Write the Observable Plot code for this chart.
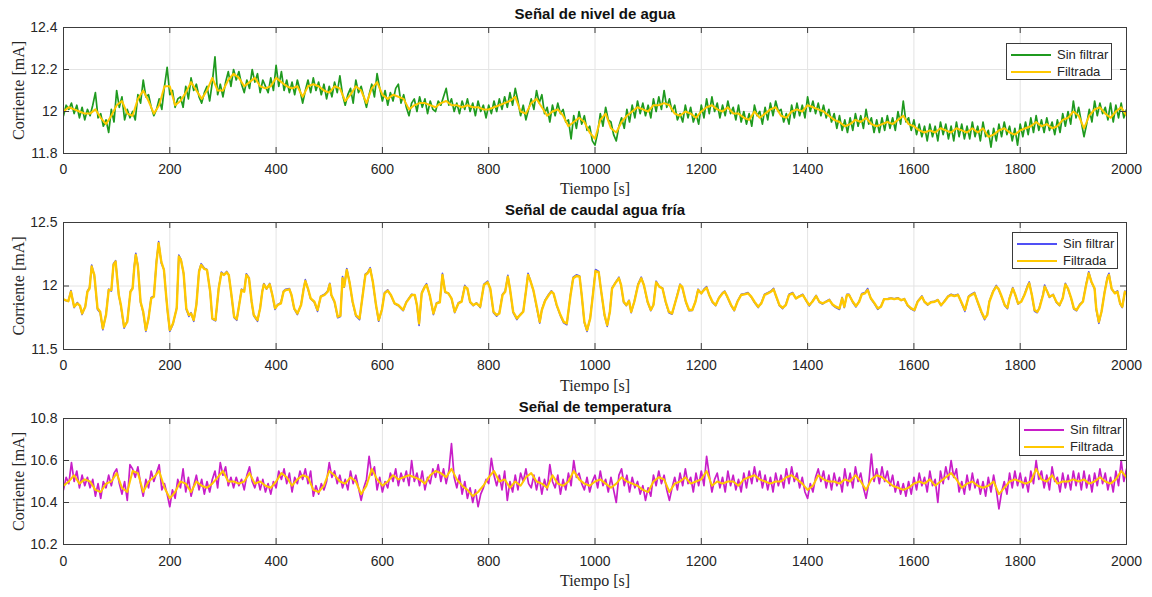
<!DOCTYPE html>
<html>
<head>
<meta charset="utf-8">
<script src="https://cdn.jsdelivr.net/npm/d3@7"></script>
<script src="https://cdn.jsdelivr.net/npm/@observablehq/plot@0.6"></script>
<style>
  body { margin: 0; background: #fff; }
  .panel { position: relative; width: 1152px; height: 197px; }
  .legend { position: absolute; background: #fff; border: 1px solid #3a3a3a; box-sizing: border-box;
    font-family: "Liberation Sans", Arial, sans-serif; font-size: 13px; color: #262626; padding: 2px 0 0 4px; }
  .legend .row { display: flex; align-items: center; height: 17px; }
  .legend .sw { display: inline-block; width: 40px; height: 2px; margin-right: 6px; }
</style>
</head>
<body>
<div id="chart"></div>
<script>
// ---------------- DATA ----------------
const xTicks = [0, 200, 400, 600, 800, 1000, 1200, 1400, 1600, 1800, 2000];
const yTicksNivel = [11.8, 12, 12.2, 12.4];
const yTicksCaudal = [11.5, 12, 12.5];
const yTicksTemp = [10.2, 10.4, 10.6, 10.8];
const seriesNames = ["Sin filtrar", "Filtrada"];
const titles = ["Señal de nivel de agua", "Señal de caudal agua fría", "Señal de temperatura"];

// Nivel de agua: filtrada (cada 10 s)
const nivelFilt = [
12.00,12.02,12.01,12.00,11.99,11.99,12.01,11.97,11.94,11.98,
12.03,12.05,11.99,11.98,12.06,12.10,12.05,11.99,12.03,12.12,
12.12,12.03,12.05,12.09,12.14,12.10,12.06,12.10,12.16,12.10,
12.10,12.15,12.18,12.16,12.12,12.14,12.16,12.12,12.11,12.12,
12.16,12.14,12.12,12.11,12.12,12.07,12.12,12.13,12.12,12.10,
12.09,12.12,12.11,12.05,12.08,12.12,12.10,12.04,12.11,12.14,
12.08,12.06,12.08,12.07,12.06,12.01,12.03,12.04,12.04,12.03,
12.02,12.04,12.05,12.03,12.03,12.02,12.03,12.02,12.02,12.01,
12.01,12.02,12.03,12.04,12.05,12.07,12.00,11.99,12.04,12.06,
12.02,11.98,12.00,12.01,11.98,11.93,11.95,11.97,11.95,11.90,
11.87,11.96,11.99,11.92,11.90,11.95,11.98,12.00,12.02,12.01,
12.00,12.03,12.03,12.04,12.03,11.99,11.98,12.00,11.99,11.97,
12.00,12.02,12.03,12.01,12.00,12.02,11.99,11.99,11.97,11.96,
12.00,11.97,11.99,12.01,12.02,11.98,11.97,12.00,12.01,12.00,
12.03,12.02,12.01,12.00,11.98,11.96,11.95,11.93,11.94,11.96,
11.95,11.97,11.94,11.93,11.94,11.95,11.94,11.96,11.98,11.94,
11.93,11.91,11.90,11.91,11.90,11.92,11.91,11.90,11.92,11.91,
11.90,11.92,11.90,11.92,11.88,11.89,11.91,11.92,11.90,11.89,
11.91,11.92,11.93,11.95,11.93,11.94,11.92,11.93,11.96,11.97,
12.00,11.98,11.92,11.98,12.01,12.02,11.99,11.97,12.00,12.02,
11.98];

// Nivel de agua: sin filtrar (cada 5 s)
const nivelRaw = [
11.98,12.03,12.01,12.04,11.99,12.03,11.97,12.02,11.96,12.01,11.98,12.03,12.09,11.97,11.99,11.93,11.96,11.90,12.01,11.95,
12.10,12.02,12.07,11.96,12.01,11.97,12.00,11.96,12.08,12.04,12.15,12.07,12.08,12.02,11.98,12.01,12.06,12.01,12.12,12.21,
12.08,12.10,12.02,12.06,12.07,12.02,12.12,12.06,12.16,12.10,12.13,12.07,12.04,12.09,12.12,12.05,12.14,12.26,12.08,12.13,
12.07,12.14,12.19,12.12,12.20,12.15,12.19,12.13,12.09,12.15,12.11,12.20,12.14,12.18,12.09,12.15,12.12,12.09,12.16,12.10,
12.22,12.12,12.19,12.10,12.15,12.09,12.14,12.08,12.15,12.10,12.04,12.10,12.15,12.09,12.16,12.10,12.14,12.08,12.13,12.06,
12.12,12.07,12.14,12.09,12.17,12.08,12.03,12.08,12.11,12.04,12.15,12.09,12.12,12.07,12.02,12.08,12.13,12.07,12.18,12.11,
12.05,12.10,12.03,12.09,12.05,12.11,12.13,12.04,12.08,12.02,11.98,12.04,12.06,12.00,12.07,12.02,12.06,11.99,12.05,12.01,
12.00,12.05,12.03,12.07,12.11,12.03,12.06,12.00,12.04,11.99,12.05,12.01,12.06,12.00,12.04,11.98,12.05,12.00,12.03,11.97,
12.03,11.99,12.05,12.00,12.06,12.01,12.07,12.02,12.09,12.03,12.11,12.05,11.98,12.03,11.96,12.01,12.06,12.01,12.10,12.04,
12.08,11.99,12.02,11.95,12.03,11.98,12.04,11.99,12.01,11.95,11.96,11.87,11.98,11.92,12.00,11.94,11.98,11.91,11.93,11.86,
11.84,11.90,11.99,11.93,12.02,11.96,11.95,11.89,11.86,11.93,11.97,11.92,12.01,11.95,12.03,11.97,12.05,11.99,12.04,11.98,
12.03,11.97,12.06,12.00,12.07,12.01,12.10,12.02,12.06,12.00,12.03,11.96,11.99,11.95,12.03,11.97,12.02,11.95,11.99,11.94,
12.03,11.97,12.06,11.99,12.07,12.00,12.04,11.97,12.03,11.98,12.05,11.99,12.02,11.96,12.03,11.95,12.00,11.94,11.99,11.93,
12.03,11.98,12.00,11.94,12.02,11.96,12.04,11.98,12.05,12.00,12.01,11.95,11.99,11.94,12.03,11.97,12.04,11.98,12.03,11.97,
12.07,12.00,12.05,11.99,12.04,11.98,12.03,11.97,12.01,11.95,11.99,11.92,11.98,11.91,11.96,11.90,11.97,11.91,11.99,11.93,
11.98,11.92,12.01,11.94,11.97,11.90,11.96,11.90,11.97,11.91,11.98,11.92,11.97,11.91,12.00,11.94,12.05,11.95,11.97,11.91,
11.96,11.89,11.94,11.88,11.93,11.86,11.94,11.88,11.93,11.86,11.95,11.89,11.94,11.87,11.93,11.86,11.95,11.88,11.94,11.87,
11.93,11.87,11.95,11.88,11.93,11.86,11.95,11.88,11.91,11.83,11.92,11.86,11.94,11.88,11.95,11.89,11.93,11.86,11.92,11.84,
11.94,11.88,11.95,11.89,11.97,11.90,11.98,11.91,11.96,11.90,11.97,11.91,11.95,11.89,11.96,11.90,11.99,11.93,12.00,11.94,
12.05,11.97,12.02,11.95,11.88,11.94,12.01,11.95,12.05,11.98,12.04,11.99,12.02,11.96,12.04,11.95,12.03,11.97,12.04,11.97,
12.01];

// Caudal agua fría: instantes [s]
const caudalT = [
0,9,14,20,26,31,35,41,45,49,
53,58,64,69,74,80,85,90,94,98,
104,108,114,120,126,130,133,136,140,145,
150,155,160,165,170,175,179,184,189,193,
196,200,206,213,217,221,226,231,236,240,
245,250,255,259,265,270,276,280,286,292,
297,302,307,311,316,321,326,330,335,340,
344,349,354,358,365,370,374,377,382,388,
393,398,403,409,414,418,425,429,434,440,
447,452,455,460,465,472,478,484,491,497,
501,504,510,516,521,525,528,533,538,544,
550,557,563,568,572,577,582,588,593,599,
604,610,616,623,630,639,645,655,661,665,
669,674,680,683,689,696,702,708,713,718,
724,730,736,743,749,755,760,765,771,777,
784,791,798,803,809,815,820,826,831,836,
840,846,853,859,865,870,874,878,884,891,
896,900,906,913,918,922,928,935,941,947,
954,959,965,971,975,980,985,991,996,1001,
1007,1011,1018,1023,1028,1032,1038,1045,1049,1054,
1059,1064,1068,1074,1081,1087,1092,1099,1105,1110,
1115,1121,1127,1133,1139,1145,1155,1160,1164,1171,
1177,1183,1189,1194,1200,1205,1210,1215,1221,1227,
1233,1240,1244,1249,1256,1262,1268,1275,1281,1288,
1294,1300,1307,1313,1319,1325,1331,1336,1340,1347,
1353,1359,1365,1372,1378,1384,1391,1397,1403,1409,
1416,1422,1428,1435,1441,1447,1453,1460,1465,1469,
1474,1478,1485,1491,1497,1502,1508,1513,1519,1526,
1532,1538,1544,1551,1557,1563,1570,1576,1582,1588,
1595,1601,1607,1615,1620,1626,1632,1639,1645,1651,
1657,1664,1670,1676,1683,1689,1696,1703,1708,1714,
1720,1727,1733,1738,1742,1749,1755,1759,1764,1771,
1776,1780,1786,1791,1796,1802,1808,1814,1817,1822,
1827,1832,1836,1843,1846,1851,1855,1862,1868,1874,
1880,1885,1890,1896,1901,1906,1912,1918,1924,1929,
1934,1940,1943,1948,1953,1959,1964,1967,1972,1978,
1983,1988,1992,1997,2000];

// Caudal agua fría: filtrada
const caudalFilt = [
11.895,11.88,11.955,11.837,11.863,11.845,11.784,11.837,11.955,11.98,
12.153,12.087,11.824,11.797,11.666,11.771,11.968,11.968,12.166,12.192,
11.929,11.85,11.679,11.718,11.955,11.98,12.139,12.245,12.153,11.876,
11.797,11.653,11.745,11.903,11.916,12.192,12.337,12.192,12.126,11.929,
11.797,11.653,11.705,11.824,12.232,12.205,12.1,11.824,11.771,11.784,
11.732,11.85,12.113,12.166,12.134,12.126,11.955,11.745,11.732,11.98,
12.1,12.087,12.108,12.087,11.929,11.758,11.739,11.837,11.968,11.955,
12.087,12.061,11.876,11.771,11.732,11.824,11.955,12.013,11.98,12.013,
11.929,11.824,11.85,11.863,11.955,11.968,11.974,11.929,11.824,11.784,
11.85,11.98,12.039,11.98,11.903,11.876,11.811,11.916,11.929,11.955,
12.013,11.929,11.876,11.758,11.766,12.061,11.995,12.126,12.034,11.876,
11.771,11.745,11.929,12.087,12.1,12.134,12.034,11.85,11.732,11.811,
11.942,11.963,11.929,11.863,11.85,11.811,11.871,11.929,11.929,11.85,
11.705,11.942,11.995,12.008,11.929,11.784,11.863,11.871,12.087,11.955,
11.942,11.903,11.797,11.863,11.876,11.995,11.98,11.876,11.85,11.863,
11.837,12.008,12.029,11.98,11.797,11.771,11.784,11.929,11.955,12.074,
11.98,11.797,11.745,11.771,11.797,11.955,12.087,12.047,11.968,11.824,
11.718,11.811,11.882,11.929,11.955,11.942,11.85,11.771,11.718,11.705,
11.929,12.061,12.079,12.074,11.929,11.718,11.653,11.745,11.929,12.118,
12.108,11.98,11.771,11.692,11.797,11.98,12.021,12.061,12.008,11.876,
11.85,11.882,11.797,11.876,12.008,12.061,12.008,11.876,11.811,11.85,
12.029,11.995,11.98,11.876,11.797,11.784,11.929,12.008,11.995,11.876,
11.811,11.811,11.876,11.968,11.942,11.968,11.987,11.929,11.876,11.85,
11.903,11.942,11.955,11.916,11.85,11.811,11.876,11.929,11.934,11.942,
11.916,11.876,11.837,11.863,11.929,11.942,11.955,11.974,11.929,11.85,
11.829,11.85,11.929,11.942,11.903,11.916,11.929,11.889,11.85,11.876,
11.921,11.876,11.863,11.876,11.889,11.855,11.837,11.824,11.903,11.837,
11.929,11.929,11.876,11.842,11.876,11.934,11.942,11.968,11.903,11.863,
11.824,11.837,11.897,11.897,11.903,11.897,11.903,11.889,11.897,11.85,
11.824,11.811,11.876,11.916,11.876,11.855,11.871,11.876,11.889,11.85,
11.876,11.916,11.929,11.921,11.929,11.876,11.811,11.916,11.929,11.942,
11.876,11.797,11.745,11.771,11.876,11.955,11.995,11.98,11.929,11.85,
11.829,11.903,11.98,11.929,11.863,11.876,11.929,11.995,12.021,11.929,
11.811,11.797,11.824,11.929,11.995,11.955,11.916,11.929,11.876,11.85,
11.903,12.013,11.98,11.903,11.824,11.811,11.85,11.876,12.008,12.1,
12.034,11.98,11.824,11.718,11.797,11.955,12.061,12.087,11.98,11.942,
11.955,11.863,11.837,11.955,11.942];

// Caudal agua fría: sin filtrar
const caudalRaw = [
11.89,11.88,11.965,11.83,11.87,11.84,11.775,11.84,11.96,11.99,
12.165,12.08,11.815,11.79,11.655,11.78,11.975,11.96,12.175,12.2,
11.93,11.84,11.668,11.725,11.96,11.985,12.15,12.258,12.16,11.87,
11.79,11.642,11.75,11.91,11.92,12.2,12.35,12.18,12.13,11.925,
11.79,11.643,11.7,11.83,12.244,12.21,12.095,11.815,11.76,11.79,
11.722,11.855,12.12,12.176,12.14,12.13,11.95,11.74,11.725,11.985,
12.11,12.09,12.115,12.085,11.925,11.75,11.73,11.84,11.975,11.96,
12.097,12.065,11.87,11.765,11.722,11.83,11.96,12.02,11.975,12.02,
11.925,11.815,11.855,11.868,11.96,11.975,11.98,11.925,11.82,11.775,
11.855,11.985,12.05,11.975,11.9,11.87,11.8,11.92,11.935,11.96,
12.022,11.925,11.87,11.75,11.76,12.075,11.99,12.138,12.03,11.87,
11.765,11.735,11.935,12.095,12.105,12.145,12.03,11.845,11.722,11.815,
11.948,11.97,11.925,11.86,11.845,11.805,11.875,11.935,11.925,11.845,
11.69,11.95,12.0,12.018,11.925,11.775,11.868,11.875,12.1,11.95,
11.945,11.9,11.79,11.868,11.88,12.005,11.975,11.87,11.845,11.868,
11.83,12.015,12.038,11.975,11.79,11.762,11.79,11.935,11.96,12.085,
11.975,11.79,11.735,11.775,11.8,11.96,12.1,12.05,11.965,11.815,
11.708,11.815,11.888,11.935,11.962,11.94,11.845,11.765,11.71,11.695,
11.935,12.07,12.088,12.078,11.925,11.71,11.642,11.75,11.935,12.13,
12.115,11.975,11.765,11.682,11.8,11.985,12.025,12.07,12.005,11.87,
11.845,11.888,11.79,11.88,12.015,12.07,12.005,11.87,11.805,11.855,
12.038,11.995,11.985,11.87,11.79,11.778,11.935,12.015,11.99,11.87,
11.805,11.808,11.88,11.975,11.94,11.975,11.995,11.925,11.87,11.845,
11.908,11.948,11.96,11.912,11.845,11.805,11.88,11.935,11.938,11.948,
11.912,11.87,11.83,11.868,11.935,11.948,11.96,11.982,11.925,11.845,
11.822,11.855,11.935,11.948,11.9,11.92,11.935,11.885,11.843,11.88,
11.926,11.872,11.858,11.88,11.894,11.85,11.83,11.815,11.91,11.83,
11.935,11.934,11.87,11.835,11.88,11.94,11.948,11.98,11.9,11.858,
11.816,11.84,11.9,11.902,11.906,11.9,11.908,11.886,11.9,11.845,
11.818,11.805,11.88,11.922,11.872,11.85,11.875,11.88,11.893,11.845,
11.88,11.92,11.935,11.925,11.935,11.87,11.8,11.92,11.935,11.95,
11.87,11.79,11.735,11.775,11.88,11.96,12.005,11.975,11.925,11.845,
11.822,11.908,11.988,11.925,11.858,11.88,11.935,12.005,12.032,11.925,
11.8,11.79,11.83,11.935,12.008,11.955,11.91,11.935,11.87,11.845,
11.908,12.022,11.975,11.9,11.818,11.805,11.855,11.88,12.015,12.112,
12.03,11.975,11.815,11.706,11.8,11.96,12.07,12.1,11.975,11.945,
11.962,11.858,11.83,11.96,11.945];

// Temperatura: filtrada (cada 10 s)
const tempFilt = [
10.48,10.50,10.53,10.49,10.51,10.50,10.46,10.45,10.49,10.50,
10.54,10.47,10.45,10.55,10.54,10.45,10.50,10.52,10.55,10.47,
10.42,10.45,10.50,10.49,10.45,10.50,10.48,10.47,10.49,10.52,
10.55,10.50,10.50,10.49,10.50,10.54,10.49,10.50,10.48,10.47,
10.50,10.54,10.52,10.48,10.51,10.53,10.52,10.46,10.45,10.48,
10.55,10.53,10.50,10.49,10.52,10.50,10.44,10.48,10.56,10.51,
10.48,10.50,10.53,10.51,10.52,10.53,10.52,10.51,10.49,10.53,
10.55,10.54,10.52,10.56,10.51,10.48,10.46,10.43,10.45,10.48,
10.52,10.55,10.50,10.51,10.47,10.50,10.48,10.52,10.54,10.50,
10.49,10.47,10.53,10.49,10.48,10.50,10.55,10.51,10.49,10.48,
10.50,10.51,10.49,10.47,10.49,10.52,10.50,10.49,10.48,10.46,
10.45,10.50,10.52,10.51,10.45,10.49,10.50,10.52,10.49,10.50,
10.51,10.55,10.48,10.50,10.49,10.50,10.50,10.48,10.51,10.52,
10.53,10.51,10.50,10.49,10.50,10.50,10.52,10.53,10.51,10.49,
10.46,10.48,10.53,10.51,10.50,10.50,10.49,10.51,10.50,10.53,
10.50,10.46,10.51,10.53,10.52,10.50,10.48,10.47,10.46,10.47,
10.49,10.50,10.49,10.51,10.48,10.50,10.52,10.54,10.51,10.47,
10.49,10.50,10.48,10.47,10.48,10.50,10.44,10.47,10.50,10.51,
10.50,10.49,10.50,10.56,10.51,10.50,10.53,10.49,10.50,10.50,
10.51,10.50,10.51,10.49,10.50,10.52,10.50,10.49,10.51,10.55,
10.52];

// Temperatura: sin filtrar (cada 5 s)
const tempRaw = [
10.46,10.52,10.49,10.59,10.50,10.55,10.47,10.53,10.48,10.52,10.47,10.51,10.43,10.49,10.42,10.50,10.47,10.53,10.48,10.54,
10.56,10.49,10.44,10.50,10.41,10.58,10.56,10.52,10.57,10.49,10.43,10.51,10.47,10.55,10.50,10.54,10.58,10.46,10.49,10.44,
10.38,10.46,10.42,10.51,10.47,10.56,10.45,10.52,10.43,10.48,10.53,10.46,10.51,10.44,10.50,10.45,10.51,10.55,10.47,10.59,
10.53,10.57,10.48,10.52,10.47,10.52,10.48,10.51,10.46,10.53,10.57,10.50,10.47,10.52,10.46,10.51,10.45,10.49,10.44,10.50,
10.47,10.55,10.51,10.56,10.49,10.54,10.45,10.52,10.49,10.55,10.51,10.56,10.49,10.55,10.43,10.48,10.44,10.49,10.46,10.50,
10.59,10.52,10.55,10.49,10.53,10.47,10.51,10.46,10.55,10.49,10.53,10.47,10.41,10.47,10.51,10.62,10.53,10.57,10.46,10.52,
10.45,10.50,10.47,10.54,10.50,10.56,10.48,10.54,10.50,10.55,10.48,10.60,10.50,10.54,10.48,10.55,10.46,10.52,10.49,10.56,
10.52,10.58,10.50,10.56,10.49,10.55,10.68,10.52,10.47,10.53,10.44,10.50,10.42,10.47,10.40,10.46,10.38,10.44,10.47,10.51,
10.49,10.61,10.53,10.48,10.53,10.46,10.55,10.41,10.50,10.45,10.53,10.46,10.54,10.50,10.56,10.49,10.47,10.53,10.46,10.52,
10.44,10.51,10.46,10.58,10.50,10.47,10.53,10.44,10.51,10.46,10.54,10.48,10.60,10.52,10.54,10.49,10.46,10.52,10.45,10.50,
10.53,10.47,10.55,10.48,10.51,10.45,10.52,10.46,10.40,10.53,10.56,10.48,10.53,10.45,10.52,10.47,10.50,10.44,10.48,10.41,
10.47,10.43,10.53,10.48,10.55,10.49,10.53,10.46,10.41,10.47,10.52,10.46,10.54,10.48,10.56,10.49,10.52,10.45,10.54,10.48,
10.55,10.48,10.62,10.53,10.45,10.51,10.54,10.47,10.52,10.45,10.55,10.48,10.53,10.46,10.51,10.45,10.54,10.47,10.55,10.49,
10.57,10.50,10.55,10.47,10.53,10.46,10.52,10.45,10.54,10.48,10.53,10.47,10.56,10.49,10.57,10.50,10.54,10.47,10.52,10.45,
10.42,10.49,10.45,10.52,10.56,10.50,10.55,10.47,10.53,10.46,10.54,10.48,10.52,10.45,10.56,10.48,10.54,10.47,10.57,10.50,
10.54,10.47,10.42,10.49,10.63,10.50,10.56,10.49,10.57,10.50,10.55,10.48,10.53,10.45,10.50,10.44,10.49,10.43,10.50,10.44,
10.52,10.46,10.54,10.48,10.52,10.45,10.55,10.48,10.51,10.40,10.55,10.49,10.57,10.51,10.60,10.52,10.56,10.45,10.50,10.44,
10.53,10.46,10.54,10.47,10.51,10.44,10.50,10.43,10.52,10.45,10.53,10.46,10.37,10.45,10.50,10.44,10.54,10.47,10.55,10.48,
10.54,10.47,10.52,10.45,10.55,10.49,10.60,10.51,10.55,10.47,10.53,10.46,10.57,10.50,10.52,10.45,10.54,10.47,10.53,10.46,
10.55,10.48,10.54,10.46,10.55,10.47,10.53,10.45,10.54,10.48,10.56,10.49,10.54,10.46,10.52,10.45,10.55,10.48,10.60,10.50,
10.56];

// Sampling grids (time axis)
const t5 = d3.range(0, 2001, 5);
const t10 = d3.range(0, 2001, 10);

// ---------------- DRAWING ----------------
const GOLD = "#ffc800";
const SANS = "'Liberation Sans', Arial, Helvetica, sans-serif";
const SERIF = "'Liberation Serif', 'Times New Roman', serif";
const W = 1152, H = 197, ML = 63, MR = 26;
const PW = W - ML - MR;

function pairs(ts, vs) {
  const n = Math.min(ts.length, vs.length);
  const out = [];
  for (let i = 0; i < n; i++) out.push({t: ts[i], v: vs[i]});
  return out;
}

function panel(cfg) {
  const ph = cfg.plotH;
  const mb = H - cfg.mt - ph;
  const raw = pairs(cfg.rawT, cfg.rawV);
  const filt = pairs(cfg.filtT, cfg.filtV);
  const axC = "#3c3c3c";
  const svg = Plot.plot({
    width: W, height: H,
    marginLeft: ML, marginRight: MR, marginTop: cfg.mt, marginBottom: mb,
    style: {fontFamily: SANS, fontSize: "14px", color: "#262626", background: "white", overflow: "visible"},
    x: {domain: [0, 2000]},
    y: {domain: cfg.domain},
    marks: [
      Plot.gridX(xTicks, {stroke: "#e4e4e4", strokeOpacity: 1}),
      Plot.gridY(cfg.yTicks, {stroke: "#e4e4e4", strokeOpacity: 1}),
      Plot.line(raw, {x: "t", y: "v", stroke: cfg.color, strokeWidth: cfg.rawW, clip: true}),
      Plot.line(filt, {x: "t", y: "v", stroke: GOLD, strokeWidth: cfg.filtW, clip: true}),
      Plot.frame({stroke: axC, strokeWidth: 1}),
      Plot.tickX(xTicks, {x: d => d, stroke: axC, insetBottom: ph - 6}),
      Plot.tickX(xTicks, {x: d => d, stroke: axC, insetTop: ph - 6}),
      Plot.tickY(cfg.yTicks, {y: d => d, stroke: axC, insetRight: PW - 6}),
      Plot.tickY(cfg.yTicks, {y: d => d, stroke: axC, insetLeft: PW - 6}),
      Plot.axisX({ticks: xTicks, tickSize: 0, tickPadding: cfg.xPad, label: null, tickFormat: d => String(d), fontSize: 14}),
      Plot.axisY({ticks: cfg.yTicks, tickSize: 0, tickPadding: 6, label: null, tickFormat: d => String(d), fontSize: 14}),
      Plot.text([cfg.title], {frameAnchor: "top", lineAnchor: "middle", textAnchor: "middle", dy: -cfg.titleOff, fontWeight: "bold", fontSize: 15, fontFamily: SANS, fill: "#111"}),
      Plot.text(["Tiempo [s]"], {frameAnchor: "bottom", lineAnchor: "middle", textAnchor: "middle", dy: cfg.xlabOff, fontFamily: SERIF, fontSize: 16, fill: "#262626"}),
      Plot.text(["Corriente [mA]"], {frameAnchor: "left", lineAnchor: "middle", textAnchor: "middle", dx: -45, rotate: -90, fontFamily: SERIF, fontSize: 16, fill: "#262626"})
    ]
  });
  const div = document.createElement("div");
  div.className = "panel";
  div.appendChild(svg);
  const lg = document.createElement("div");
  lg.className = "legend";
  Object.assign(lg.style, {left: cfg.lg[0] + "px", top: cfg.lg[1] + "px", width: cfg.lg[2] + "px", height: cfg.lg[3] + "px"});
  [[seriesNames[0], cfg.color], [seriesNames[1], GOLD]].forEach(([name, c]) => {
    const row = document.createElement("div");
    row.className = "row";
    const sw = document.createElement("span");
    sw.className = "sw";
    sw.style.background = c;
    row.appendChild(sw);
    row.appendChild(document.createTextNode(name));
    lg.appendChild(row);
  });
  div.appendChild(lg);
  return div;
}

const chart = document.getElementById("chart");
chart.appendChild(panel({
  title: titles[0], domain: [11.8, 12.4], yTicks: yTicksNivel,
  rawT: t5, rawV: nivelRaw, filtT: t10, filtV: nivelFilt,
  color: "#1f9a1f", rawW: 1.7, filtW: 2,
  mt: 27, plotH: 126, xPad: 11, titleOff: 13, xlabOff: 35,
  lg: [1006, 43, 106, 37]
}));
chart.appendChild(panel({
  title: titles[1], domain: [11.5, 12.5], yTicks: yTicksCaudal,
  rawT: caudalT, rawV: caudalRaw, filtT: caudalT, filtV: caudalFilt,
  color: "#5050f5", rawW: 1.6, filtW: 2.4,
  mt: 25, plotH: 127, xPad: 11, titleOff: 12, xlabOff: 36,
  lg: [1012, 35, 106, 37]
}));
chart.appendChild(panel({
  title: titles[2], domain: [10.2, 10.8], yTicks: yTicksTemp,
  rawT: t5, rawV: tempRaw, filtT: t10, filtV: tempFilt,
  color: "#c81ec8", rawW: 1.7, filtW: 2,
  mt: 24, plotH: 126, xPad: 12, titleOff: 11, xlabOff: 36,
  lg: [1019, 24, 105, 38]
}));
</script>
</body>
</html>
